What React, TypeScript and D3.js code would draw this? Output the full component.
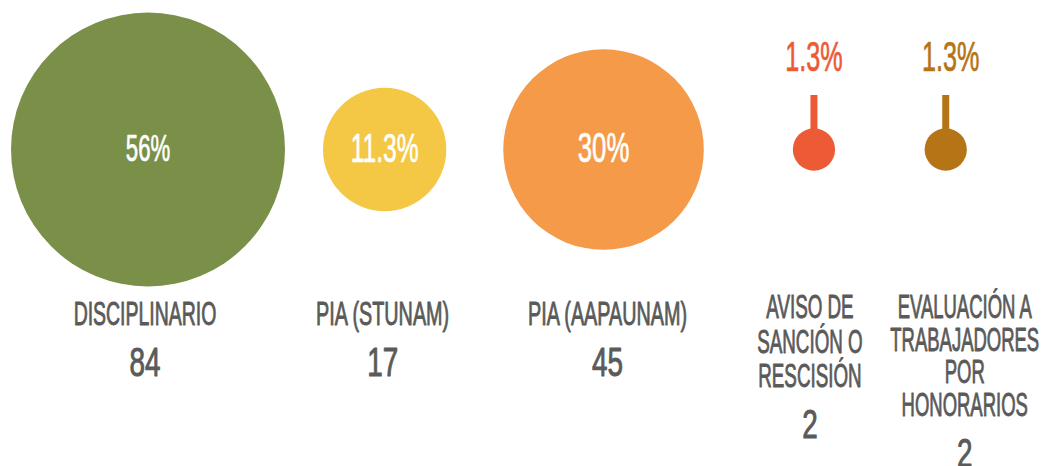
import React from "react";
import * as d3 from "d3";

// ---- data ----
const categories = [
  "DISCIPLINARIO",
  "PIA (STUNAM)",
  "PIA (AAPAUNAM)",
  "AVISO DE SANCIÓN O RESCISIÓN",
  "EVALUACIÓN A TRABAJADORES POR HONORARIOS",
];
const labelLines = [
  ["DISCIPLINARIO"],
  ["PIA (STUNAM)"],
  ["PIA (AAPAUNAM)"],
  ["AVISO DE", "SANCIÓN O", "RESCISIÓN"],
  ["EVALUACIÓN A", "TRABAJADORES", "POR", "HONORARIOS"],
];
const counts = [84, 17, 45, 2, 2];
const colors = ["#7A9049", "#F4C744", "#F49A48", "#EC5B35", "#B57516"];

// ---- layout constants ----
const W = 1042;
const H = 466;
const CY = 149.5;
const LEFT = 11;
const gaps = [38, 57, 89, 89.5];
const labelShift = [-3, -2, 4, -4, 19];
const labelWidthScale = [0.59, 0.6, 0.6, 0.57, 0.56];
const lineHeights = [33, 33, 33, 34.5, 32.5];
const outerShift = [0, 0, 0, 0, 5];
const innerSize = [37, 41, 43, 42, 42];
const FONT = "'Liberation Sans', Arial, sans-serif";
const GRAY = "#5a5a5a";

function fmtPct(v: number) {
  const p = Math.round(v * 1000) / 10;
  return (Number.isInteger(p) ? p.toFixed(0) : p.toFixed(1)) + "%";
}

function CText(props: {
  x: number;
  y: number;
  size: number;
  fill: string;
  sx: number;
  sw?: number;
  children: React.ReactNode;
}) {
  const { x, y, size, fill, sx, sw, children } = props;
  return (
    <text
      transform={`translate(${x},${y}) scale(${sx},1)`}
      textAnchor="middle"
      fontFamily={FONT}
      fontSize={size}
      fill={fill}
      stroke={fill}
      strokeWidth={sw ?? 0.8}
      strokeLinejoin="round"
    >
      {children}
    </text>
  );
}

export default function App() {
  const total = d3.sum(counts);
  const r = d3.scaleSqrt().domain([0, d3.max(counts)!]).range([0, 137]);

  const cx: number[] = [];
  counts.forEach((c, i) => {
    if (i === 0) cx.push(LEFT + r(c));
    else cx.push(cx[i - 1] + r(counts[i - 1]) + gaps[i - 1] + r(c));
  });

  return (
    <svg
      width={W}
      height={H}
      style={{ position: "absolute", left: 0, top: 0, display: "block" }}
    >
      <rect width={W} height={H} fill="#ffffff" />
      {counts.map((c, i) => {
        const rad = r(c);
        const small = rad < 40;
        const pct = fmtPct(c / total);
        const lines = labelLines[i];
        const firstBase = lines.length > 1 ? 318 : 325;
        const lh = lineHeights[i];
        const lastBase = firstBase + (lines.length - 1) * lh;
        const lx = cx[i] + labelShift[i];
        return (
          <g key={categories[i]}>
            {small && (
              <rect
                x={cx[i] - 3.5}
                y={95}
                width={7}
                height={CY - 95}
                fill={colors[i]}
              />
            )}
            <circle cx={cx[i]} cy={CY} r={rad} fill={colors[i]} />
            {small ? (
              <CText
                x={cx[i] + outerShift[i]}
                y={71}
                size={innerSize[i]}
                fill={colors[i]}
                sx={0.6}
                sw={0.7}
              >
                {pct}
              </CText>
            ) : (
              <CText
                x={cx[i]}
                y={CY + innerSize[i] * 0.3}
                size={innerSize[i]}
                fill="#ffffff"
                sx={0.6}
                sw={0.7}
              >
                {pct}
              </CText>
            )}
            {lines.map((ln, j) => (
              <CText
                key={ln}
                x={lx}
                y={firstBase + j * lh}
                size={33}
                fill={GRAY}
                sx={labelWidthScale[i]}
                sw={0.9}
              >
                {ln}
              </CText>
            ))}
            <CText
              x={lx}
              y={lastBase + 51}
              size={41}
              fill={GRAY}
              sx={0.68}
              sw={1}
            >
              {String(c)}
            </CText>
          </g>
        );
      })}
    </svg>
  );
}
